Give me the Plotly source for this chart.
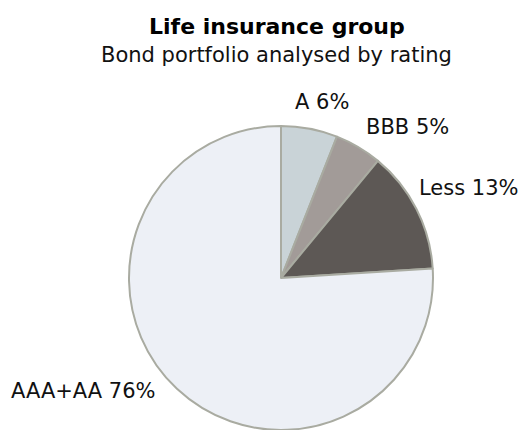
import plotly.graph_objects as go

# Bond portfolio split by rating (percent)
ratings = ["A", "BBB", "Less", "AAA+AA"]
shares = [6, 5, 13, 76]
slice_colors = ["#c9d3d7", "#a29b98", "#5d5855", "#edf0f6"]

title_text = "Life insurance group"
subtitle_text = "Bond portfolio analysed by rating"

W, H = 527, 430
FONT = "DejaVu Sans"

# label anchor points (pixels from top-left)
label_px = [(322, 102), (407, 127), (468, 188), (83, 391)]

cx, cy, r = 281, 278, 152

fig = go.Figure(
    go.Pie(
        labels=ratings,
        values=shares,
        sort=False,
        direction="clockwise",
        rotation=0,
        marker=dict(colors=slice_colors, line=dict(color="#a9aba1", width=2)),
        textinfo="none",
        hoverinfo="label+percent",
        showlegend=False,
        domain=dict(
            x=[(cx - r) / W, (cx + r) / W],
            y=[(H - cy - r) / H, (H - cy + r) / H],
        ),
    )
)

annotations = []
for (lx, ly), lab, val in zip(label_px, ratings, shares):
    annotations.append(
        dict(
            x=lx / W, y=1 - ly / H, xref="paper", yref="paper",
            text=f"{lab} {val}%", showarrow=False,
            xanchor="center", yanchor="middle",
            font=dict(family=FONT, size=21, color="#111111"),
        )
    )

annotations.append(
    dict(x=276.5 / W, y=1 - 27 / H, xref="paper", yref="paper",
         text=f"<b>{title_text}</b>", showarrow=False,
         xanchor="center", yanchor="middle",
         font=dict(family=FONT, size=22, color="#000000"))
)
annotations.append(
    dict(x=276.5 / W, y=1 - 55 / H, xref="paper", yref="paper",
         text=subtitle_text, showarrow=False,
         xanchor="center", yanchor="middle",
         font=dict(family=FONT, size=21, color="#111111"))
)

fig.update_layout(
    width=W, height=H,
    margin=dict(l=0, r=0, t=0, b=0),
    paper_bgcolor="white",
    plot_bgcolor="white",
    annotations=annotations,
)

fig.write_html("out.html")
